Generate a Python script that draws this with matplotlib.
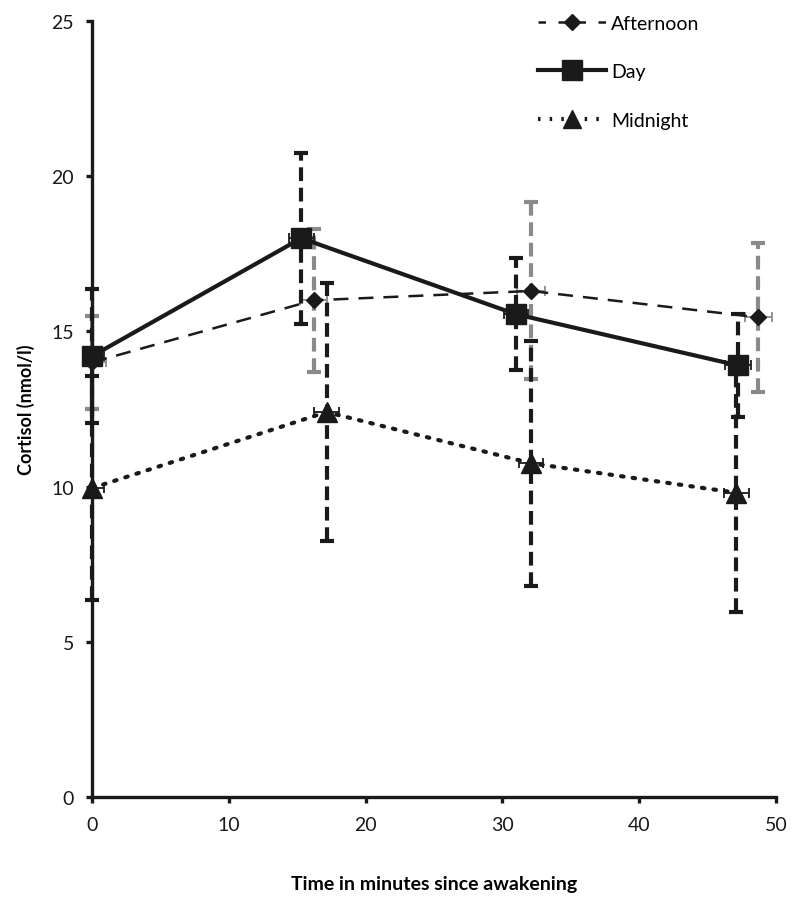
import matplotlib
matplotlib.use("Agg")
import matplotlib.pyplot as plt
from matplotlib.lines import Line2D

plt.rcParams['font.family'] = ['Lato', 'DejaVu Sans']

# Data
afternoon_t = [0, 16.2, 32.1, 48.7]
afternoon = [14.0, 16.0, 16.3, 15.45]
afternoon_sd = [1.5, 2.3, 2.85, 2.4]
afternoon_terr = [1.0, 1.0, 1.0, 1.0]

day_t = [0, 15.3, 31.0, 47.25]
day = [14.2, 18.0, 15.55, 13.9]
day_sd = [2.15, 2.75, 1.8, 1.65]
day_terr = [0.9, 0.9, 0.9, 0.95]

midnight_t = [0, 17.15, 32.1, 47.1]
midnight = [9.95, 12.4, 10.75, 9.8]
midnight_sd = [3.6, 4.15, 3.95, 3.85]
midnight_terr = [0.9, 0.9, 0.9, 0.9]

x_ticks = [0, 10, 20, 30, 40, 50]
y_ticks = [0, 5, 10, 15, 20, 25]

fig = plt.figure(figsize=(8, 9.12), dpi=100)
ax = fig.add_axes([0.115, 0.125, 0.855, 0.851])

def err(t, v, sd, terr, color, z):
    e = ax.errorbar(t, v, yerr=sd, fmt='none', ecolor=color, elinewidth=3.0,
                    capsize=5, capthick=3.0, zorder=z)
    for lc in e[2]:
        lc.set_linestyle((0, (3.3, 1.6)))
        lc.set_clip_on(False)
    for cl in e[1]:
        cl.set_clip_on(False)
    ax.errorbar(t, v, xerr=terr, fmt='none', ecolor=color, elinewidth=1.3,
                capsize=3.5, capthick=1.3, zorder=z)

err(afternoon_t, afternoon, afternoon_sd, afternoon_terr, '#8a8a8a', 2)
err(day_t, day, day_sd, day_terr, '#1a1a1a', 2)
err(midnight_t, midnight, midnight_sd, midnight_terr, '#1a1a1a', 2)

ax.plot(afternoon_t, afternoon, color='#1a1a1a', lw=1.8, ls=(0, (6, 4)),
        marker='D', ms=8, zorder=4, clip_on=False)
ax.plot(day_t, day, color='#1a1a1a', lw=3.0, ls='-',
        marker='s', ms=15, zorder=4, clip_on=False)
ax.plot(midnight_t, midnight, color='#1a1a1a', lw=3.0, ls=(0, (0.6, 2.2)),
        dash_capstyle='round', marker='^', ms=14, zorder=4, clip_on=False)

ax.set_xlim(0, 50)
ax.set_ylim(0, 25)
ax.set_xticks(x_ticks)
ax.set_yticks(y_ticks)
for s in ['top', 'right']:
    ax.spines[s].set_visible(False)
for s in ['left', 'bottom']:
    ax.spines[s].set_linewidth(2.4)
    ax.spines[s].set_color('#1a1a1a')
ax.tick_params(axis='both', direction='out', length=4, width=2.4,
               labelsize=14, colors='#1a1a1a')
ax.tick_params(axis='x', pad=10)
ax.tick_params(axis='y', pad=9)

ax.set_xlabel('Time in minutes since awakening', fontsize=14, fontweight='bold',
              labelpad=30)
ax.set_ylabel('Cortisol (nmol/l)', fontsize=13, fontweight='bold', labelpad=12)

handles = [
    Line2D([], [], color='#1a1a1a', lw=1.8, ls=(0, (3, 5)), marker='D', ms=8),
    Line2D([], [], color='#1a1a1a', lw=3.0, ls='-', marker='s', ms=15),
    Line2D([], [], color='#1a1a1a', lw=3.0, ls=(0, (0.6, 2.2)), marker='^', ms=13),
]
fig.legend(handles, ['Afternoon', 'Day', 'Midnight'], loc='upper left',
           bbox_to_anchor=(0.650, 1.002), frameon=False, fontsize=14,
           handlelength=3.5, labelspacing=1.62, handletextpad=0.3)

fig.savefig('out.png', dpi=100)
